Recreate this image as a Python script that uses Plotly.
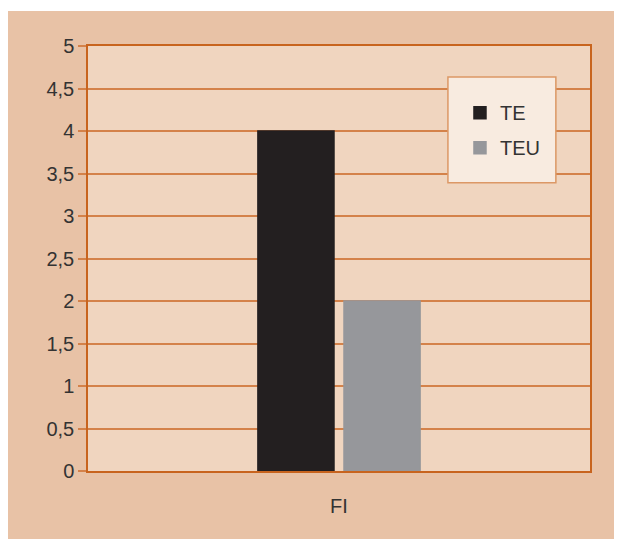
import plotly.graph_objects as go

categories = ["FI"]
series_names = ["TE", "TEU"]
te_values = [4]
teu_values = [2]
y_tick_vals = [0, 0.5, 1, 1.5, 2, 2.5, 3, 3.5, 4, 4.5, 5]
y_tick_text = ["0", "0,5", "1", "1,5", "2", "2,5", "3", "3,5", "4", "4,5", "5"]

FONT = "Liberation Sans"
TAN = "#e8c2a6"
PLOT_BG = "#f0d5bf"
GRID = "#d4824a"
AXIS = "#c8641e"
TXT = "#333333"

fig = go.Figure()
fig.add_trace(go.Bar(x=categories, y=te_values, name=series_names[0],
                     marker=dict(color="#231f20", line=dict(width=1.5, color="#231f20")),
                     legendgroup="a"))
fig.add_trace(go.Bar(x=categories, y=teu_values, name=series_names[1],
                     marker=dict(color="#96979b", line=dict(width=1.5, color="#96979b")),
                     legendgroup="b"))

fig.update_layout(
    width=622, height=539,
    margin=dict(l=80, r=40, t=38, b=76, pad=0),
    paper_bgcolor="white",
    plot_bgcolor=PLOT_BG,
    font=dict(family=FONT, size=20, color=TXT),
    barmode="group",
    bargap=0.657,
    bargroupgap=0.1163,
    showlegend=True,
    legend=dict(x=0.741, y=0.889, xanchor="left", yanchor="top",
                bgcolor="rgba(0,0,0,0)", borderwidth=0,
                tracegroupgap=6, traceorder="grouped",
                font=dict(family=FONT, size=20, color=TXT)),
    shapes=[
        dict(type="rect", xref="paper", yref="paper",
             x0=-0.1594, x1=1.0478, y0=-0.16, y1=1.0824,
             fillcolor=TAN, line=dict(width=0), layer="below"),
        dict(type="rect", xref="paper", yref="paper",
             x0=0, x1=1, y0=0, y1=1,
             fillcolor=PLOT_BG, line=dict(width=0), layer="below"),
        dict(type="rect", xref="paper", yref="paper",
             x0=0.717, x1=0.932, y0=0.678, y1=0.927,
             fillcolor="#f8ebe0", line=dict(width=1.5, color="#dc9866"),
             layer="above"),
    ],
)
fig.update_yaxes(range=[0, 5], tickvals=y_tick_vals, ticktext=y_tick_text,
                 showgrid=True, gridcolor=GRID, gridwidth=1.5,
                 ticks="outside", ticklen=8, tickcolor=GRID, tickwidth=1.5,
                 showline=True, linecolor=AXIS, linewidth=1.5, mirror=True,
                 zeroline=False, tickfont=dict(size=20))
fig.update_xaxes(showgrid=False, ticks="", showline=True, linecolor=AXIS,
                 linewidth=1.5, mirror=True, ticklabelstandoff=16,
                 tickfont=dict(size=20))

fig.write_html("out.html")
